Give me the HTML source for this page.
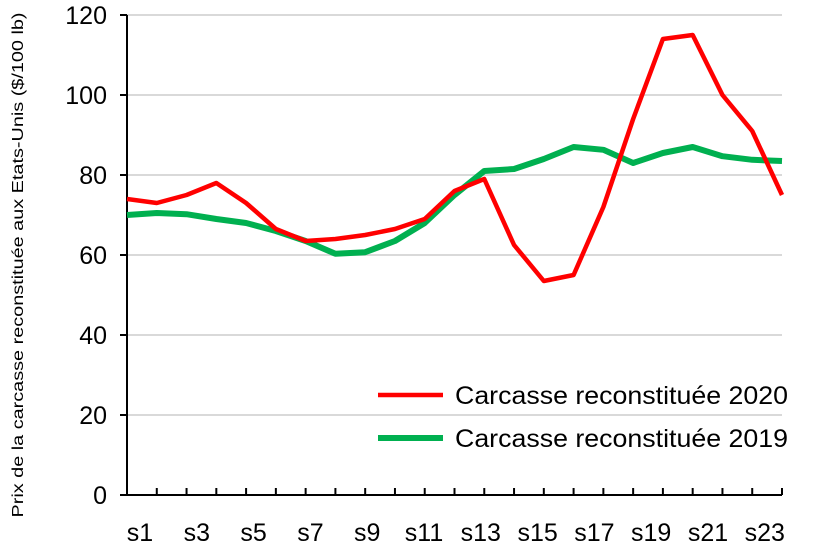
<!DOCTYPE html>
<html><head><meta charset="utf-8"><style>body{margin:0;background:#fff}svg{display:block}text{font-family:"Liberation Sans Narrow","Liberation Sans",sans-serif}</style></head><body>
<svg width="820" height="546" xmlns="http://www.w3.org/2000/svg">
<g stroke="#d9d9d9" stroke-width="2">
<line x1="127" y1="15" x2="782" y2="15"/><line x1="127" y1="95" x2="782" y2="95"/><line x1="127" y1="175" x2="782" y2="175"/><line x1="127" y1="255" x2="782" y2="255"/><line x1="127" y1="335" x2="782" y2="335"/><line x1="127" y1="415" x2="782" y2="415"/>
</g>
<g stroke="#000" stroke-width="2">
<line x1="127" y1="15" x2="127" y2="496"/><line x1="126" y1="495" x2="782" y2="495"/>
<line x1="120" y1="15" x2="127" y2="15"/><line x1="120" y1="95" x2="127" y2="95"/><line x1="120" y1="175" x2="127" y2="175"/><line x1="120" y1="255" x2="127" y2="255"/><line x1="120" y1="335" x2="127" y2="335"/><line x1="120" y1="415" x2="127" y2="415"/><line x1="120" y1="495" x2="127" y2="495"/>
</g>
<g id="ticks" stroke="#000" stroke-width="2"></g>
<g font-size="25" text-anchor="end" fill="#000">
<text x="107" y="24">120</text><text x="107" y="104">100</text><text x="107" y="184">80</text><text x="107" y="264">60</text><text x="107" y="344">40</text><text x="107" y="424">20</text><text x="107" y="504">0</text>
</g>
<g id="xl" font-size="25" text-anchor="middle"></g>
<text transform="translate(23,265) rotate(-90)" font-size="16" text-anchor="middle" textLength="505" lengthAdjust="spacingAndGlyphs">Prix de la carcasse reconstituée aux Etats-Unis ($/100 lb)</text>
<polyline id="g" fill="none" stroke="#00b050" stroke-width="6" stroke-linejoin="round"/>
<polyline id="r" fill="none" stroke="#ff0000" stroke-width="4.5" stroke-linejoin="round"/>
<line x1="378" y1="395" x2="443" y2="395" stroke="#ff0000" stroke-width="4.5"/>
<text x="455" y="404" font-size="25" textLength="333" lengthAdjust="spacingAndGlyphs">Carcasse reconstituée 2020</text>
<line x1="378" y1="438" x2="443" y2="438" stroke="#00b050" stroke-width="6"/>
<text x="455" y="447" font-size="25" textLength="333" lengthAdjust="spacingAndGlyphs">Carcasse reconstituée 2019</text>
</svg>
<script>
var r=[74,73,75,78,73,66.5,63.5,64,65,66.5,69,76,79,62.5,53.5,55,72,94,114,115,100,91,75];
var g=[70,70.5,70.2,69,68,66,63.5,60.3,60.7,63.5,68,75,81,81.5,84,87,86.3,83,85.5,87,84.7,83.8,83.5];
function X(i){return 127+i*655/22}function Y(v){return 495-v*4}
document.getElementById('r').setAttribute('points',r.map(function(v,i){return X(i)+','+Y(v)}).join(' '));
document.getElementById('g').setAttribute('points',g.map(function(v,i){return X(i)+','+Y(v)}).join(' '));
var t='',l='';for(var i=0;i<23;i++){t+='<line x1="'+X(i)+'" y1="488" x2="'+X(i)+'" y2="495"/>';}
for(var i=0;i<23;i+=2){l+='<text x="'+(140+i*28.4)+'" y="541">s'+(i+1)+'</text>';}
document.getElementById('ticks').innerHTML=t;document.getElementById('xl').innerHTML=l;
</script>
</body></html>
